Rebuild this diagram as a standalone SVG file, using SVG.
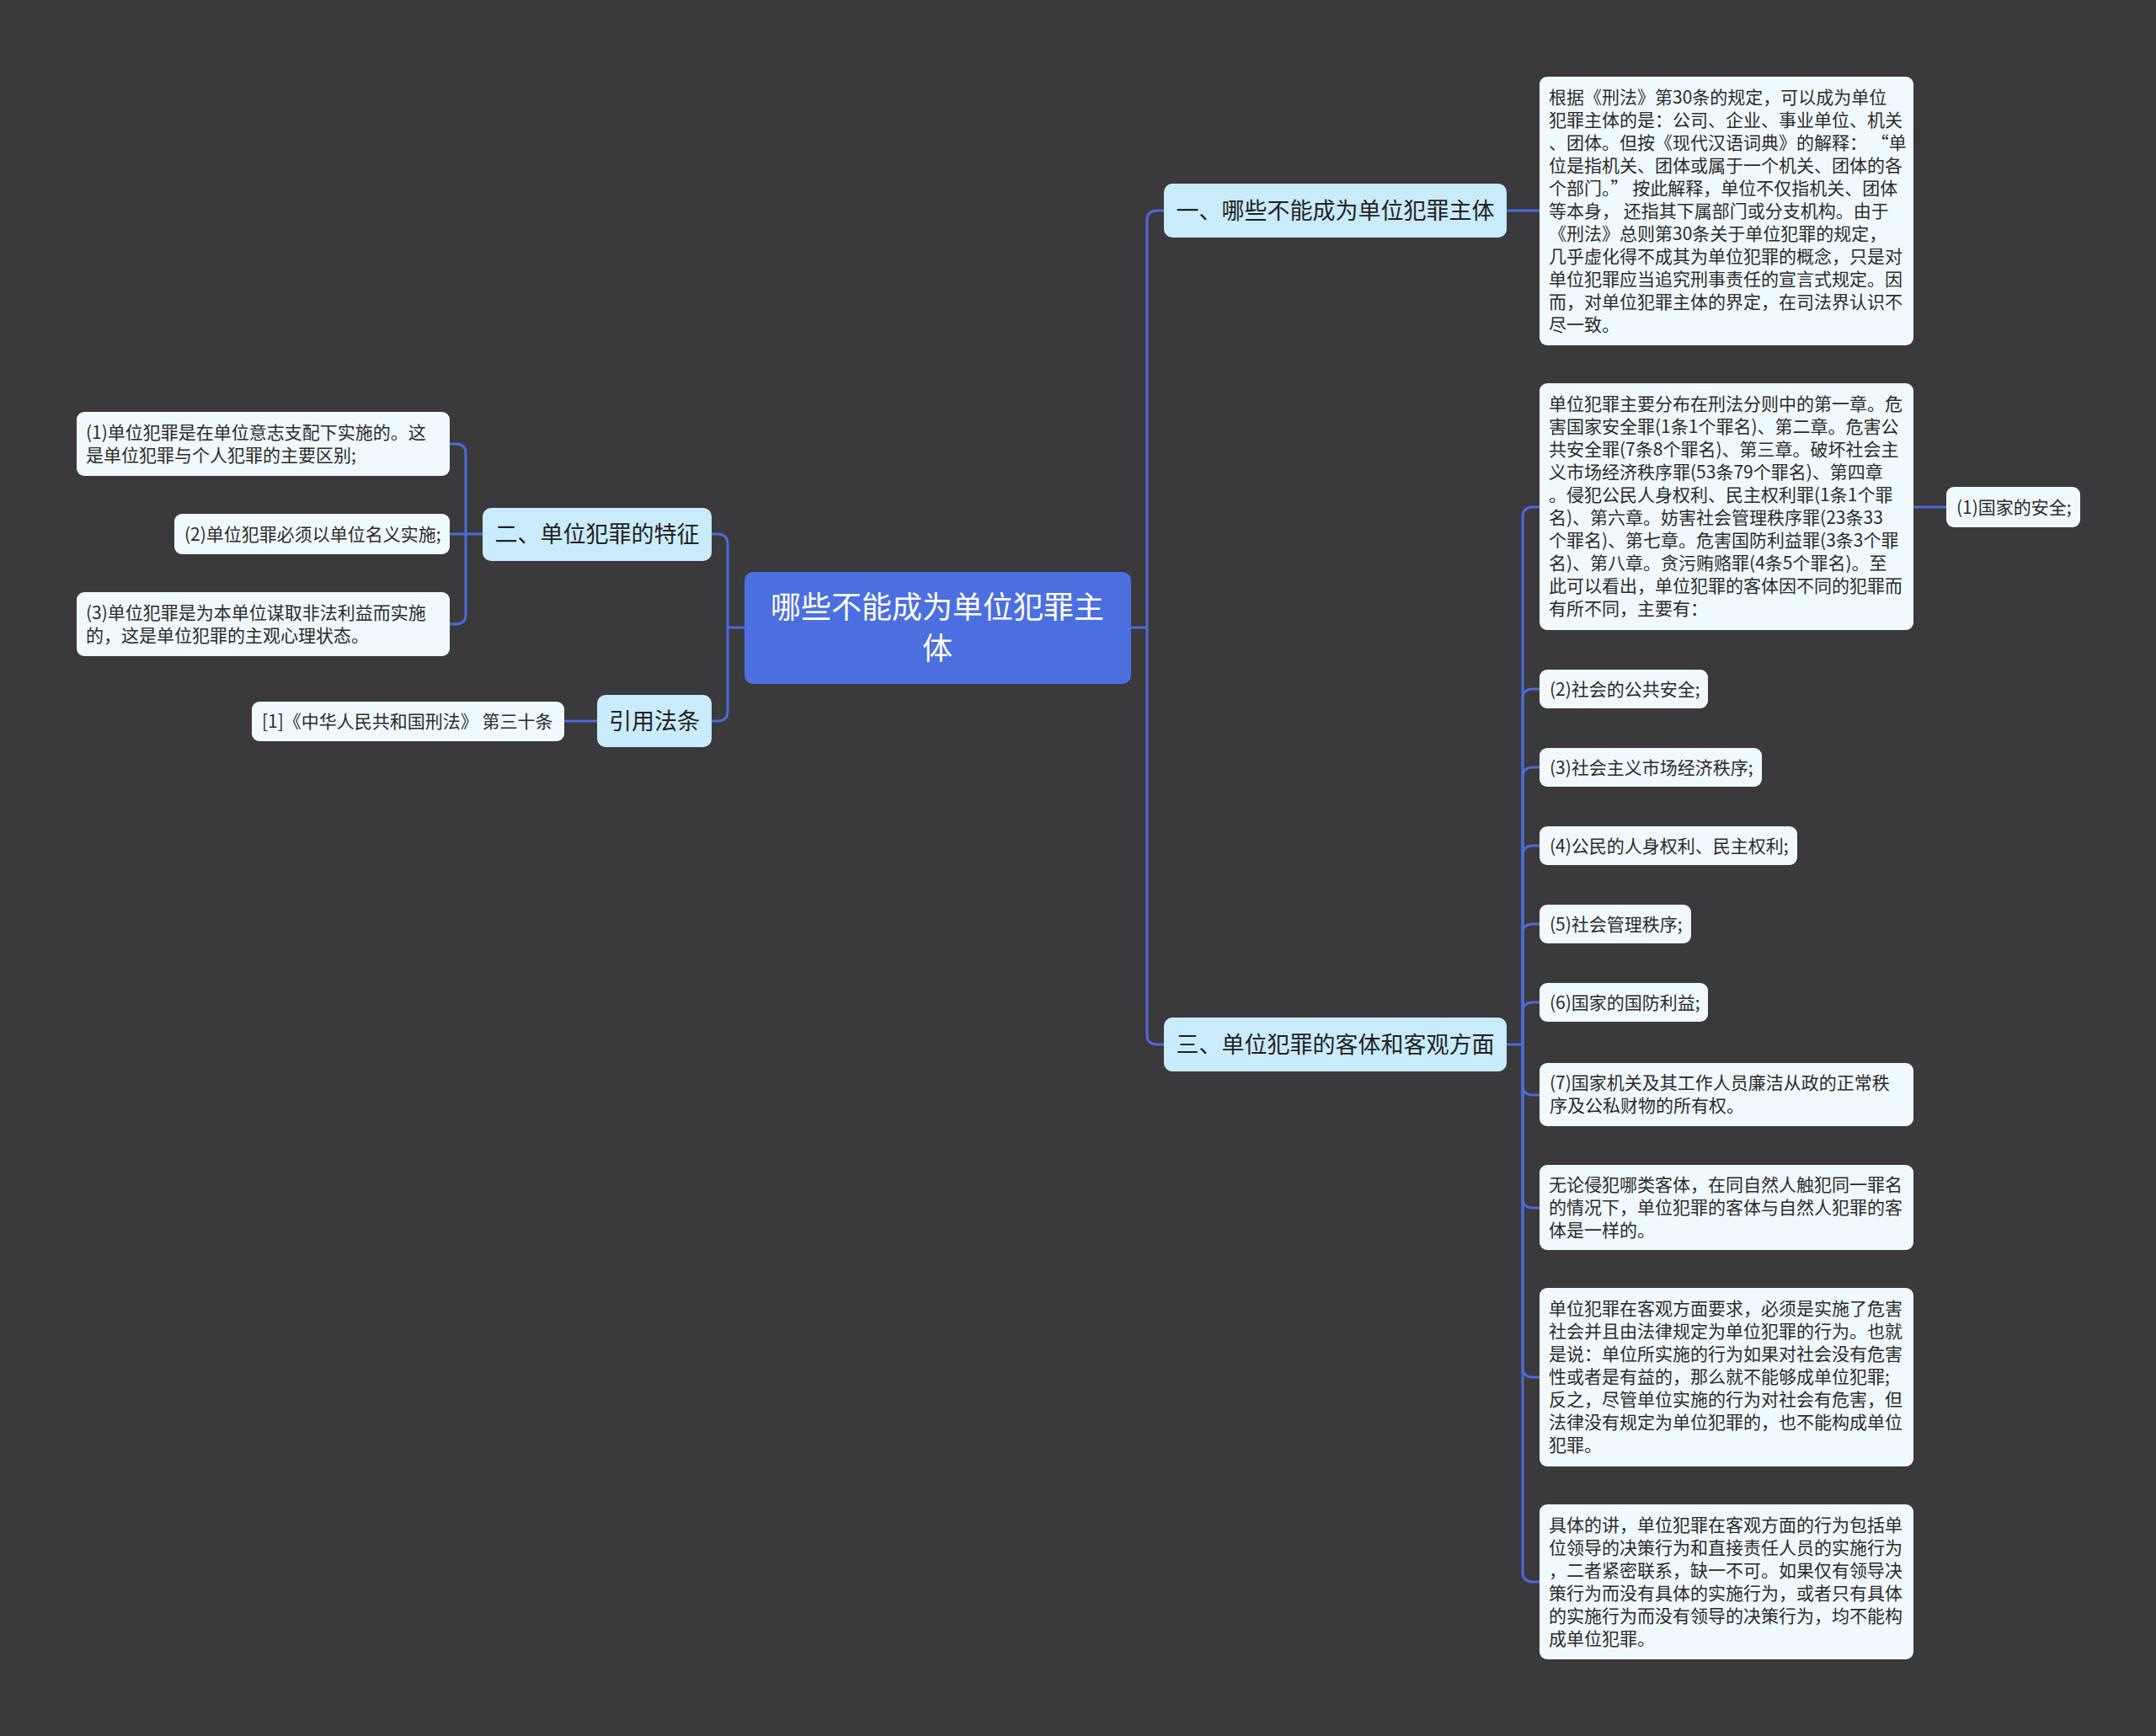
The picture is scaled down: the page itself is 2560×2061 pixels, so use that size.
<svg xmlns="http://www.w3.org/2000/svg" width="2560" height="2061" viewBox="0 0 2560 2061">
<style>
text{font-family:"Noto Sans CJK SC","Noto Sans",sans-serif;}
.root rect{fill:#4c6fe0;}
.root text{fill:#ffffff;font-size:36px;text-anchor:middle;}
.l1 rect{fill:#c9ecfc;}
.l1 text{fill:#222222;font-size:27px;text-anchor:middle;}
.leaf rect{fill:#f0fafe;}
.leaf text{fill:#2b2b2b;font-size:21px;}
.conn path{fill:none;stroke:#4b6bd8;stroke-width:3;}
</style>
<rect x="0" y="0" width="2560" height="2061" fill="#3a393b"/>
<g class="conn" id="connectors">
<path d="M1343,745 H1362 M1362,745 V262 Q1362,250 1374,250 H1382 M1362,745 V1228 Q1362,1240 1374,1240 H1382"/>
<path d="M884,745 H864 M864,745 V646 Q864,634 852,634 H845 M864,745 V844 Q864,856 852,856 H845"/>
<path d="M573,634 H534 M553,634 V539 Q553,527 541,527 H534 M553,634 V729 Q553,741 541,741 H534"/>
<path d="M709,856 H670"/>
<path d="M1789,250 H1828"/>
<path d="M1789,1240 H1808"/>
<path d="M1808,1240 V614 Q1808,602 1820,602 H1828"/>
<path d="M1808,1240 V830 Q1808,818 1820,818 H1828"/>
<path d="M1808,1240 V923 Q1808,911 1820,911 H1828"/>
<path d="M1808,1240 V1016 Q1808,1004 1820,1004 H1828"/>
<path d="M1808,1240 V1109 Q1808,1097 1820,1097 H1828"/>
<path d="M1808,1240 V1202 Q1808,1190 1820,1190 H1828"/>
<path d="M1808,1240 V1288 Q1808,1300 1820,1300 H1828"/>
<path d="M1808,1240 V1422 Q1808,1434 1820,1434 H1828"/>
<path d="M1808,1240 V1623 Q1808,1635 1820,1635 H1828"/>
<path d="M1808,1240 V1866 Q1808,1878 1820,1878 H1828"/>
<path d="M2272,602 H2311"/>
</g>
<g class="root" id="node-root">
<rect x="884" y="679" width="459" height="133" rx="10"/>
<text x="1113" y="734">哪些不能成为单位犯罪主</text>
<text x="1113" y="783">体</text>
</g>
<g class="l1" id="node-1">
<rect x="1382" y="218" width="407" height="64" rx="10"/>
<text x="1585.5" y="260">一、哪些不能成为单位犯罪主体</text>
</g>
<g class="l1" id="node-3">
<rect x="1382" y="1208" width="407" height="64" rx="10"/>
<text x="1585.5" y="1250">三、单位犯罪的客体和客观方面</text>
</g>
<g class="l1" id="node-2">
<rect x="573" y="603" width="272" height="63" rx="10"/>
<text x="709" y="644">二、单位犯罪的特征</text>
</g>
<g class="l1" id="node-cite">
<rect x="709" y="825" width="136" height="62" rx="10"/>
<text x="777" y="866">引用法条</text>
</g>
<g class="leaf" id="leaf-2-1">
<rect x="91" y="489" width="443" height="76" rx="9"/>
<text x="102" y="521">(1)单位犯罪是在单位意志支配下实施的。这</text>
<text x="102" y="548">是单位犯罪与个人犯罪的主要区别;</text>
</g>
<g class="leaf" id="leaf-2-2">
<rect x="207" y="610" width="327" height="48" rx="9"/>
<text x="219" y="642">(2)单位犯罪必须以单位名义实施;</text>
</g>
<g class="leaf" id="leaf-2-3">
<rect x="91" y="703" width="443" height="76" rx="9"/>
<text x="102" y="735">(3)单位犯罪是为本单位谋取非法利益而实施</text>
<text x="102" y="762">的，这是单位犯罪的主观心理状态。</text>
</g>
<g class="leaf" id="leaf-cite">
<rect x="299" y="833" width="371" height="47" rx="9"/>
<text x="311" y="864">[1]《中华人民共和国刑法》 第三十条</text>
</g>
<g class="leaf" id="leaf-1-1">
<rect x="1828" y="91" width="444" height="319" rx="9"/>
<text x="1839" y="123">根据《刑法》第30条的规定，可以成为单位</text>
<text x="1839" y="150">犯罪主体的是：公司、企业、事业单位、机关</text>
<text x="1839" y="177" xml:space="preserve">、团体。但按《现代汉语词典》的解释： “单</text>
<text x="1839" y="204">位是指机关、团体或属于一个机关、团体的各</text>
<text x="1839" y="231" xml:space="preserve">个部门。” 按此解释，单位不仅指机关、团体</text>
<text x="1839" y="258">等本身， 还指其下属部门或分支机构。由于</text>
<text x="1839" y="285">《刑法》总则第30条关于单位犯罪的规定，</text>
<text x="1839" y="312">几乎虚化得不成其为单位犯罪的概念，只是对</text>
<text x="1839" y="339">单位犯罪应当追究刑事责任的宣言式规定。因</text>
<text x="1839" y="366">而，对单位犯罪主体的界定，在司法界认识不</text>
<text x="1839" y="393">尽一致。</text>
</g>
<g class="leaf" id="leaf-3-1">
<rect x="1828" y="455" width="444" height="293" rx="9"/>
<text x="1839" y="487">单位犯罪主要分布在刑法分则中的第一章。危</text>
<text x="1839" y="514">害国家安全罪(1条1个罪名)、第二章。危害公</text>
<text x="1839" y="541">共安全罪(7条8个罪名)、第三章。破坏社会主</text>
<text x="1839" y="568">义市场经济秩序罪(53条79个罪名)、第四章</text>
<text x="1839" y="595">。侵犯公民人身权利、民主权利罪(1条1个罪</text>
<text x="1839" y="622">名)、第六章。妨害社会管理秩序罪(23条33</text>
<text x="1839" y="649">个罪名)、第七章。危害国防利益罪(3条3个罪</text>
<text x="1839" y="676">名)、第八章。贪污贿赂罪(4条5个罪名)。至</text>
<text x="1839" y="703">此可以看出，单位犯罪的客体因不同的犯罪而</text>
<text x="1839" y="730">有所不同，主要有：</text>
</g>
<g class="leaf" id="leaf-3-1-1">
<rect x="2311" y="578" width="159" height="48" rx="9"/>
<text x="2323" y="610">(1)国家的安全;</text>
</g>
<g class="leaf" id="leaf-3-2">
<rect x="1828" y="795" width="200" height="46" rx="9"/>
<text x="1840" y="826">(2)社会的公共安全;</text>
</g>
<g class="leaf" id="leaf-3-3">
<rect x="1828" y="888" width="264" height="46" rx="9"/>
<text x="1840" y="919">(3)社会主义市场经济秩序;</text>
</g>
<g class="leaf" id="leaf-3-4">
<rect x="1828" y="981" width="306" height="46" rx="9"/>
<text x="1840" y="1012">(4)公民的人身权利、民主权利;</text>
</g>
<g class="leaf" id="leaf-3-5">
<rect x="1828" y="1074" width="180" height="46" rx="9"/>
<text x="1840" y="1105">(5)社会管理秩序;</text>
</g>
<g class="leaf" id="leaf-3-6">
<rect x="1828" y="1167" width="200" height="46" rx="9"/>
<text x="1840" y="1198">(6)国家的国防利益;</text>
</g>
<g class="leaf" id="leaf-3-7">
<rect x="1828" y="1262" width="444" height="75" rx="9"/>
<text x="1840" y="1293">(7)国家机关及其工作人员廉洁从政的正常秩</text>
<text x="1840" y="1320">序及公私财物的所有权。</text>
</g>
<g class="leaf" id="leaf-3-8">
<rect x="1828" y="1383" width="444" height="101" rx="9"/>
<text x="1839" y="1414">无论侵犯哪类客体，在同自然人触犯同一罪名</text>
<text x="1839" y="1441">的情况下，单位犯罪的客体与自然人犯罪的客</text>
<text x="1839" y="1468">体是一样的。</text>
</g>
<g class="leaf" id="leaf-3-9">
<rect x="1828" y="1529" width="444" height="212" rx="9"/>
<text x="1839" y="1561">单位犯罪在客观方面要求，必须是实施了危害</text>
<text x="1839" y="1588">社会并且由法律规定为单位犯罪的行为。也就</text>
<text x="1839" y="1615">是说：单位所实施的行为如果对社会没有危害</text>
<text x="1839" y="1642">性或者是有益的，那么就不能够成单位犯罪;</text>
<text x="1839" y="1669">反之，尽管单位实施的行为对社会有危害，但</text>
<text x="1839" y="1696">法律没有规定为单位犯罪的，也不能构成单位</text>
<text x="1839" y="1723">犯罪。</text>
</g>
<g class="leaf" id="leaf-3-10">
<rect x="1828" y="1786" width="444" height="184" rx="9"/>
<text x="1839" y="1818">具体的讲，单位犯罪在客观方面的行为包括单</text>
<text x="1839" y="1845">位领导的决策行为和直接责任人员的实施行为</text>
<text x="1839" y="1872">，二者紧密联系，缺一不可。如果仅有领导决</text>
<text x="1839" y="1899">策行为而没有具体的实施行为，或者只有具体</text>
<text x="1839" y="1926">的实施行为而没有领导的决策行为，均不能构</text>
<text x="1839" y="1953">成单位犯罪。</text>
</g>
</svg>
